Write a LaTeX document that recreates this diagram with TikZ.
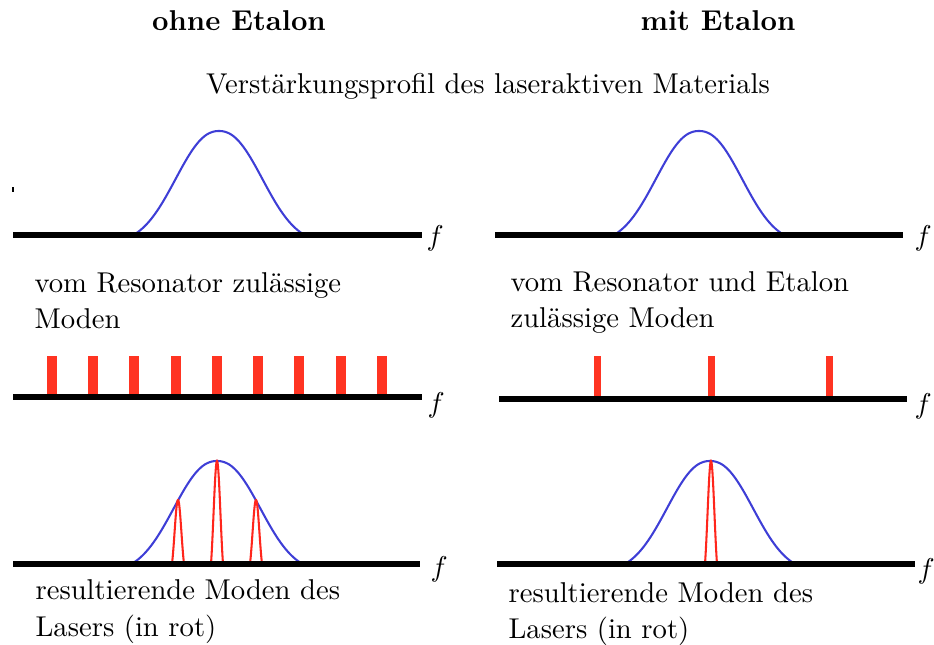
\documentclass[tikz,border=0pt]{standalone}
\usepackage{fontspec}
\definecolor{gainblue}{RGB}{62,62,214}
\definecolor{modered}{RGB}{255,38,28}
\definecolor{barred}{RGB}{255,52,34}
\begin{document}
\begin{tikzpicture}[x=0.349pt,y=-0.349pt,
  declare function={gp(\u)=(exp(-((abs(\u)+0.0001)/0.66)^2.25)-0.078)/0.922;
                    rp(\u)=(exp(-1.539*\u*\u)-0.2146)/0.7854;},
  axisline/.style={line width=1.76pt},
  gain/.style={draw=gainblue,line width=0.72pt,line cap=round},
  modeline/.style={draw=modered,line width=0.72pt},
  modebar/.style={fill=barred},
  lbl/.style={inner sep=0pt,font=\fontsize{10}{12}\selectfont,anchor=base west},
  ttl/.style={inner sep=0pt,font=\fontsize{10}{12}\selectfont\bfseries,anchor=base},
  flbl/.style={inner sep=0pt,anchor=base west,font=\fontsize{10}{12}\selectfont}]
\useasboundingbox (0,0) rectangle (934,644);

% titles
\node[ttl] (tl) at (239,30) {ohne Etalon};
\node[ttl] (tr) at (718,30) {mit Etalon};
\node[inner sep=0pt,anchor=base,font=\fontsize{10}{12}\selectfont] (sub) at (488,93) {Verstärkungsprofil des laseraktiven Materials};

% ---------- row 1: gain profiles
\draw[gain] plot[domain=-1:1,samples=80] ({219+85.5*\x},{235-104*gp(\x)});
\draw[gain] plot[domain=-1:1,samples=80] ({699+85*\x},{235-104*gp(\x)});
\coordinate (a1s) at (13,235); \coordinate (a1e) at (422,235);
\coordinate (b1s) at (495,235); \coordinate (b1e) at (903,235);
\draw[axisline] (a1s) -- (a1e);
\draw[axisline] (b1s) -- (b1e);
\draw[line width=0.4pt] (13,187) -- (13,192);
\node[flbl] (f1) at (426,245) {$f$};
\node[flbl] (f2) at (914,245) {$f$};

% ---------- row 2: resonator modes
\node[lbl] (l1a) at (34,292) {vom Resonator zulässige};
\node[lbl] (l1b) at (34,328) {Moden};
\node[lbl] (l2a) at (510,291) {vom Resonator und Etalon};
\node[lbl] (l2b) at (510,327) {zulässige Moden};
\foreach \c in {52,93,134,176,217,258,299,341,382}
  \fill[modebar] (\c-5,356) rectangle (\c+5,397);
\foreach \c in {597,711,829}
  \fill[modebar] (\c-3.5,356) rectangle (\c+3.5,399);
\coordinate (a2s) at (13,397); \coordinate (a2e) at (422,397);
\coordinate (b2s) at (499,399); \coordinate (b2e) at (907,399);
\draw[axisline] (a2s) -- (a2e);
\draw[axisline] (b2s) -- (b2e);
\node[flbl] (f3) at (427,412) {$f$};
\node[flbl] (f4) at (914,413) {$f$};

% ---------- row 3: resulting laser modes
\draw[gain] plot[domain=-1:1,samples=80] ({217+85.5*\x},{564-103*gp(\x)});
\draw[gain] plot[domain=-1:1,samples=80] ({710+85*\x},{564-103*gp(\x)});
\draw[modeline] plot[domain=-1:1,samples=41] ({178+6*\x},{564-64*rp(\x)});
\draw[modeline] plot[domain=-1:1,samples=41] ({217+6*\x},{564-103*rp(\x)});
\draw[modeline] plot[domain=-1:1,samples=41] ({256+6*\x},{564-64*rp(\x)});
\draw[modeline] plot[domain=-1:1,samples=41] ({711+6*\x},{564-103*rp(\x)});
\coordinate (a3s) at (13,564); \coordinate (a3e) at (420,564);
\coordinate (b3s) at (497,564); \coordinate (b3e) at (915,564);
\draw[axisline] (a3s) -- (a3e);
\draw[axisline] (b3s) -- (b3e);
\node[flbl] (f5) at (430,576) {$f$};
\node[flbl] (f6) at (917,578) {$f$};
\node[lbl] (l3a) at (35,599) {resultierende Moden des};
\node[lbl] (l3b) at (35,636) {Lasers (in rot)};
\node[lbl] (l4a) at (508,602) {resultierende Moden des};
\node[lbl] (l4b) at (508,638) {Lasers (in rot)};
\end{tikzpicture}
\end{document}
